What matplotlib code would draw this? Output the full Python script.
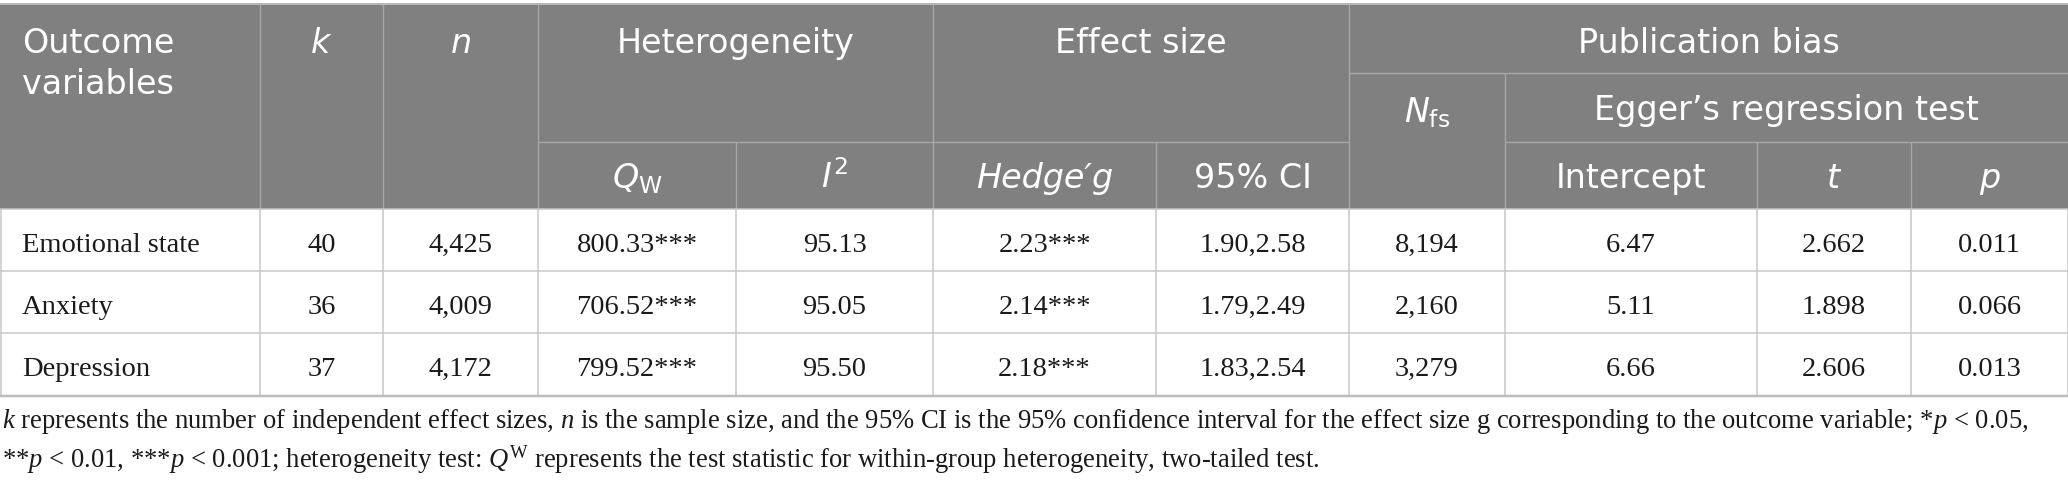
import matplotlib
matplotlib.use("Agg")
import matplotlib.pyplot as plt
from matplotlib.patches import Rectangle

plt.rcParams['mathtext.fontset'] = 'custom'
plt.rcParams['mathtext.rm'] = 'Liberation Serif'
plt.rcParams['mathtext.it'] = 'Liberation Serif:italic'
plt.rcParams['mathtext.bf'] = 'Liberation Serif:bold'

# ---- data ----
outcomes = ["Emotional state", "Anxiety", "Depression"]
k_vals = ["40", "36", "37"]
n_vals = ["4,425", "4,009", "4,172"]
qw_vals = ["800.33***", "706.52***", "799.52***"]
i2_vals = ["95.13", "95.05", "95.50"]
g_vals = ["2.23***", "2.14***", "2.18***"]
ci_vals = ["1.90,2.58", "1.79,2.49", "1.83,2.54"]
nfs_vals = ["8,194", "2,160", "3,279"]
intercept_vals = ["6.47", "5.11", "6.66"]
t_vals = ["2.662", "1.898", "2.606"]
p_vals = ["0.011", "0.066", "0.013"]

footnote_1 = (r"$k$ represents the number of independent effect sizes, $n$ is the sample size, "
              r"and the 95% CI is the 95% confidence interval for the effect size g corresponding "
              r"to the outcome variable; *$p$ < 0.05,")
footnote_2 = (r"**$p$ < 0.01, ***$p$ < 0.001; heterogeneity test: $Q^{\mathrm{W}}$ represents the test "
              r"statistic for within-group heterogeneity, two-tailed test.")

# ---- layout (pixels) ----
W, H = 2068, 488
col_edges = [0, 260, 383, 538, 736, 933, 1156, 1349, 1505, 1757, 1911, 2068]
y_top, y_h1, y_h2, y_hb = 4, 73, 142, 209
row_edges = [209, 271, 333, 396]

HEAD_BG = "#808080"
HEAD_LINE = "#a8a8a8"
GRID = "#c6c6c6"
TXT = "#1a1a1a"
px = 0.72  # 1 px in points at dpi 100

fig = plt.figure(figsize=(W / 100, H / 100), dpi=100)
ax = fig.add_axes([0, 0, 1, 1])
ax.set_xlim(0, W)
ax.set_ylim(H, 0)
ax.axis("off")

# header background
ax.add_patch(Rectangle((0, y_top), W, y_hb - y_top, facecolor=HEAD_BG, edgecolor="none", zorder=1))

# header lines
hl = dict(color=HEAD_LINE, lw=1.4 * px, zorder=2)
ax.hlines(y_h1, col_edges[7], W, **hl)
ax.hlines(y_h2, col_edges[3], col_edges[7], **hl)
ax.hlines(y_h2, col_edges[8], W, **hl)
for xi in [1, 2, 3, 5, 7]:
    ax.vlines(col_edges[xi], y_top, y_hb, **hl)
for xi in [4, 6, 9, 10]:
    ax.vlines(col_edges[xi], y_h2, y_hb, **hl)
ax.vlines(col_edges[8], y_h1, y_hb, **hl)

# top border
ax.hlines(y_top, 0, W, color="#b8b8b8", lw=2 * px, zorder=3)

# body grid
gl = dict(color=GRID, lw=1.5 * px, zorder=2)
for y in row_edges[1:-1]:
    ax.hlines(y, 0, W, **gl)
ax.hlines(row_edges[-1], 0, W, color="#bcbcbc", lw=2.5 * px, zorder=3)
ax.hlines(row_edges[0], 0, W, color=GRID, lw=1.5 * px, zorder=2)
for xe in col_edges[1:-1]:
    ax.vlines(xe, row_edges[0], row_edges[-1], **gl)
ax.vlines(0.5, row_edges[0], row_edges[-1], **gl)
ax.vlines(W - 0.5, row_edges[0], row_edges[-1], **gl)

def cc(i):
    return (col_edges[i] + col_edges[i + 1]) / 2

def span(i, j):
    return (col_edges[i] + col_edges[j]) / 2

# header text
hs = 24
hkw = dict(color="white", fontsize=hs, family="DejaVu Sans", math_fontfamily="dejavusans",
           va="baseline", zorder=4)
ax.text(22, 53, "Outcome", ha="left", **hkw)
ax.text(22, 94, "variables", ha="left", **hkw)
ax.text(cc(1), 53, r"$k$", ha="center", **hkw)
ax.text(cc(2), 53, r"$n$", ha="center", **hkw)
ax.text(span(3, 5), 53, "Heterogeneity", ha="center", **hkw)
ax.text(span(5, 7), 53, "Effect size", ha="center", **hkw)
ax.text(span(7, 11), 53, "Publication bias", ha="center", **hkw)
ax.text(cc(7), 122, r"$N_{\mathrm{fs}}$", ha="center", **hkw)
ax.text(span(8, 11), 120, "Egger\u2019s regression test", ha="center", **hkw)
ax.text(cc(3), 188, r"$Q_{\mathrm{W}}$", ha="center", **hkw)
ax.text(cc(4), 188, r"$I^{2}$", ha="center", **hkw)
ax.text(cc(5), 188, "Hedge\u2032g", ha="center", fontstyle="italic", **hkw)
ax.text(cc(6), 188, "95% CI", ha="center", **hkw)
ax.text(cc(8), 188, "Intercept", ha="center", **hkw)
ax.text(cc(9), 188, r"$t$", ha="center", **hkw)
ax.text(cc(10), 188, r"$p$", ha="center", **hkw)

# body text
columns = [outcomes, k_vals, n_vals, qw_vals, i2_vals, g_vals, ci_vals,
           nfs_vals, intercept_vals, t_vals, p_vals]
ds = 20.5
dkw = dict(color=TXT, fontsize=ds, family="Liberation Serif", va="baseline", zorder=4)
for r in range(len(outcomes)):
    yb = (row_edges[r] + row_edges[r + 1]) / 2 + 11.5
    for c, col in enumerate(columns):
        if c == 0:
            ax.text(22, yb, col[r], ha="left", **dkw)
        else:
            ax.text(cc(c), yb, col[r], ha="center", **dkw)

# footnote
fkw = dict(color=TXT, family="Liberation Serif", math_fontfamily="custom",
           va="baseline", ha="left", zorder=4)
t1 = ax.text(2, 428, footnote_1, fontsize=18, **fkw)
t2 = ax.text(2, 468, footnote_2, fontsize=18, **fkw)
renderer = fig.canvas.get_renderer()
w1 = t1.get_window_extent(renderer).width
fs = 18 * 2028 / w1
t1.set_fontsize(fs)
t2.set_fontsize(fs)

fig.savefig("out.png", dpi=100, facecolor="white")
